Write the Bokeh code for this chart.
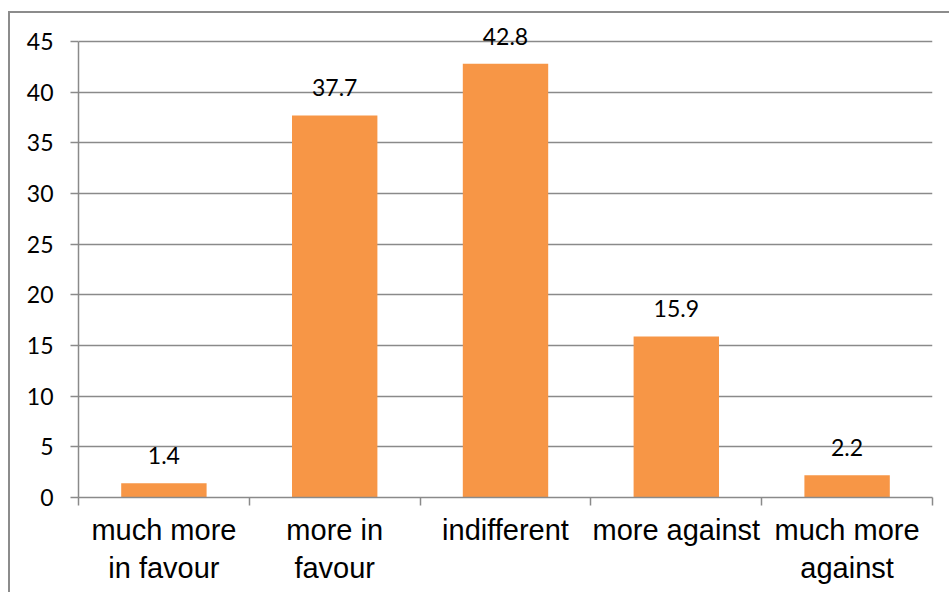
import numpy as np
from bokeh.plotting import figure
from bokeh.models import ColumnDataSource, Range1d, FixedTicker, LabelSet
from bokeh.core.properties import value
from bokeh.embed import file_html
from bokeh.resources import INLINE

categories = ["much more\nin favour", "more in\nfavour", "indifferent", "more against", "much more\nagainst"]
values = [1.4, 37.7, 42.8, 15.9, 2.2]
y_ticks = [0, 5, 10, 15, 20, 25, 30, 35, 40, 45]

x_pos = np.arange(len(categories)) + 0.5
src = ColumnDataSource(dict(x=x_pos, top=values, lbl=[f"{v:.1f}" for v in values]))

# frame: top at page y=21, bottom at page y=497; 45 must sit at page y=41
y_top = 45 * (497 - 21) / (497 - 41)

p = figure(width=939, height=579, output_backend="svg", toolbar_location=None,
           x_range=Range1d(0, len(categories)), y_range=Range1d(0, y_top),
           min_border_left=68, min_border_right=17, min_border_top=8, min_border_bottom=95,
           margin=(13, 0, 0, 10))
p.styles = {"outline": "2px solid #8c8c8c"}
p.outline_line_color = None
p.background_fill_color = "white"
p.border_fill_color = "white"

p.vbar(x="x", top="top", bottom=0, width=0.5, source=src, fill_color="#F79646", line_color=None)

labels = LabelSet(x="x", y="top", text="lbl", source=src, text_align="center",
                  text_baseline="alphabetic", y_offset=19, text_font=value("Lato"),
                  text_font_size=value("23px"), text_color=value("black"))
p.add_layout(labels)

# grid
p.xgrid.grid_line_color = None
p.ygrid.ticker = FixedTicker(ticks=y_ticks)
p.ygrid.grid_line_color = "#8a8a8a"
p.ygrid.grid_line_width = 1.5

# y axis
p.yaxis.ticker = FixedTicker(ticks=y_ticks)
p.yaxis.bounds = (0, 45)
p.yaxis.axis_line_color = "#8a8a8a"
p.yaxis.axis_line_width = 1.5
p.yaxis.major_tick_line_color = "#8a8a8a"
p.yaxis.major_tick_line_width = 1.5
p.yaxis.major_tick_out = 8
p.yaxis.major_tick_in = 0
p.yaxis.minor_tick_line_color = None
p.yaxis.major_label_text_font = "Lato"
p.yaxis.major_label_text_font_size = "23px"
p.yaxis.major_label_text_color = "black"
p.yaxis.major_label_standoff = 17

# x axis
p.xaxis.ticker = FixedTicker(ticks=list(x_pos), minor_ticks=list(range(len(categories) + 1)))
p.xaxis.major_label_overrides = {float(x): c for x, c in zip(x_pos, categories)}
p.xaxis.axis_line_color = "#8a8a8a"
p.xaxis.axis_line_width = 1.5
p.xaxis.major_tick_line_color = None
p.xaxis.major_tick_out = 0
p.xaxis.major_tick_in = 0
p.xaxis.minor_tick_line_color = "#8a8a8a"
p.xaxis.minor_tick_line_width = 1.5
p.xaxis.minor_tick_out = 8
p.xaxis.minor_tick_in = 0
p.xaxis.major_label_text_font = "Liberation Sans"
p.xaxis.major_label_text_font_size = "29px"
p.xaxis.major_label_text_color = "black"
p.xaxis.major_label_standoff = 8

open("out.html", "w").write(file_html(p, INLINE))
